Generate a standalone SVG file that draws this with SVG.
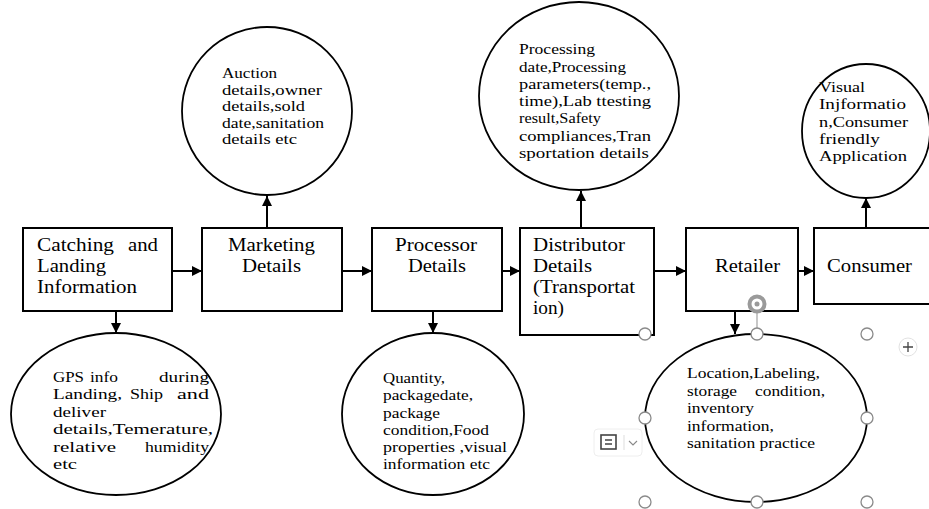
<svg xmlns="http://www.w3.org/2000/svg" width="929" height="509" viewBox="0 0 929 509">
<style>
.box{fill:#fff;stroke:#000;stroke-width:2}
.ell{fill:#fff;stroke:#000;stroke-width:1.8}
text{font-family:'Liberation Serif','Times New Roman','DejaVu Serif',serif;fill:#000}
.bt{font-size:18.5px}
.et{font-size:15px}
.con{stroke:#000;stroke-width:2;fill:none;marker-end:url(#ah)}
.h{fill:#fff;stroke:#8a8a8a;stroke-width:1.3}
</style>
<defs>
<marker id="ah" viewBox="0 0 10 10" refX="10" refY="5" markerWidth="5.5" markerHeight="5" markerUnits="strokeWidth" orient="auto">
<path d="M0,0 L10,5 L0,10 z" fill="#000"/>
</marker>
</defs>
<rect width="929" height="509" fill="#fff"/>

<g id="connectors">
<line class="con" x1="172" y1="271" x2="202" y2="271"/>
<line class="con" x1="342" y1="271" x2="372" y2="271"/>
<line class="con" x1="502" y1="271" x2="520" y2="271"/>
<line class="con" x1="654" y1="271" x2="686" y2="271"/>
<line class="con" x1="798" y1="271" x2="814" y2="271"/>
<line class="con" x1="116" y1="311" x2="116" y2="333"/>
<line class="con" x1="267" y1="228" x2="267" y2="196"/>
<line class="con" x1="433" y1="311" x2="433" y2="333"/>
<line class="con" x1="581" y1="228" x2="581" y2="191"/>
<line class="con" x1="735" y1="311" x2="735" y2="334"/>
<line class="con" x1="866" y1="228" x2="866" y2="198"/>
</g>

<g id="n-catching">
<rect class="box" x="23" y="228" width="149" height="83"/>
<text class="bt" x="37" y="251" textLength="77" lengthAdjust="spacingAndGlyphs">Catching</text>
<text class="bt" x="128" y="251" textLength="30" lengthAdjust="spacingAndGlyphs">and</text>
<text class="bt" x="37" y="272" textLength="69" lengthAdjust="spacingAndGlyphs">Landing</text>
<text class="bt" x="37" y="293" textLength="100" lengthAdjust="spacingAndGlyphs">Information</text>
</g>

<g id="n-marketing">
<rect class="box" x="202" y="228" width="140" height="83"/>
<text class="bt" x="228" y="251" textLength="87" lengthAdjust="spacingAndGlyphs">Marketing</text>
<text class="bt" x="242" y="272" textLength="59" lengthAdjust="spacingAndGlyphs">Details</text>
</g>

<g id="n-processor">
<rect class="box" x="372" y="228" width="130" height="83"/>
<text class="bt" x="395" y="251" textLength="82" lengthAdjust="spacingAndGlyphs">Processor</text>
<text class="bt" x="408" y="272" textLength="58" lengthAdjust="spacingAndGlyphs">Details</text>
</g>

<g id="n-distributor">
<rect class="box" x="520" y="228" width="134" height="107"/>
<text class="bt" x="533" y="251" textLength="92" lengthAdjust="spacingAndGlyphs">Distributor</text>
<text class="bt" x="533" y="272" textLength="59" lengthAdjust="spacingAndGlyphs">Details</text>
<text class="bt" x="533" y="293" textLength="102" lengthAdjust="spacingAndGlyphs">(Transportat</text>
<text class="bt" x="533" y="314" textLength="31" lengthAdjust="spacingAndGlyphs">ion)</text>
</g>

<g id="n-retailer">
<rect class="box" x="686" y="228" width="112" height="83"/>
<text class="bt" x="715" y="272" textLength="65" lengthAdjust="spacingAndGlyphs">Retailer</text>
</g>

<g id="n-consumer">
<rect class="box" x="814" y="228" width="120" height="76"/>
<text class="bt" x="827" y="272" textLength="85" lengthAdjust="spacingAndGlyphs">Consumer</text>
</g>

<g id="n-auction">
<ellipse class="ell" cx="267" cy="111" rx="85" ry="84"/>
<text class="et" x="222" y="78" textLength="55" lengthAdjust="spacingAndGlyphs">Auction</text>
<text class="et" x="222" y="95" textLength="100" lengthAdjust="spacingAndGlyphs">details,owner</text>
<text class="et" x="222" y="111" textLength="83" lengthAdjust="spacingAndGlyphs">details,sold</text>
<text class="et" x="222" y="128" textLength="102" lengthAdjust="spacingAndGlyphs">date,sanitation</text>
<text class="et" x="222" y="144" textLength="75" lengthAdjust="spacingAndGlyphs">details etc</text>
</g>

<g id="n-processing">
<ellipse class="ell" cx="579" cy="96" rx="100" ry="94"/>
<text class="et" x="519" y="54" textLength="76" lengthAdjust="spacingAndGlyphs">Processing</text>
<text class="et" x="519" y="72" textLength="107" lengthAdjust="spacingAndGlyphs">date,Processing</text>
<text class="et" x="519" y="89" textLength="132" lengthAdjust="spacingAndGlyphs">parameters(temp.,</text>
<text class="et" x="519" y="106" textLength="132" lengthAdjust="spacingAndGlyphs">time),Lab ttesting</text>
<text class="et" x="519" y="123" textLength="82" lengthAdjust="spacingAndGlyphs">result,Safety</text>
<text class="et" x="519" y="141" textLength="132" lengthAdjust="spacingAndGlyphs">compliances,Tran</text>
<text class="et" x="519" y="158" textLength="130" lengthAdjust="spacingAndGlyphs">sportation details</text>
</g>

<g id="n-visual">
<ellipse class="ell" cx="866" cy="131" rx="64" ry="67"/>
<text class="et" x="819" y="92" textLength="46" lengthAdjust="spacingAndGlyphs">Visual</text>
<text class="et" x="819" y="109" textLength="87" lengthAdjust="spacingAndGlyphs">Injformatio</text>
<text class="et" x="819" y="127" textLength="89" lengthAdjust="spacingAndGlyphs">n,Consumer</text>
<text class="et" x="819" y="144" textLength="61" lengthAdjust="spacingAndGlyphs">friendly</text>
<text class="et" x="819" y="161" textLength="88" lengthAdjust="spacingAndGlyphs">Application</text>
</g>

<g id="n-gps">
<ellipse class="ell" cx="116" cy="414" rx="105" ry="81"/>
<text class="et" x="53" y="382" textLength="31" lengthAdjust="spacingAndGlyphs">GPS</text>
<text class="et" x="90" y="382" textLength="28" lengthAdjust="spacingAndGlyphs">info</text>
<text class="et" x="159" y="382" textLength="50" lengthAdjust="spacingAndGlyphs">during</text>
<text class="et" x="53" y="399" textLength="69" lengthAdjust="spacingAndGlyphs">Landing,</text>
<text class="et" x="130" y="399" textLength="33" lengthAdjust="spacingAndGlyphs">Ship</text>
<text class="et" x="177" y="399" textLength="32" lengthAdjust="spacingAndGlyphs">and</text>
<text class="et" x="53" y="417" textLength="53" lengthAdjust="spacingAndGlyphs">deliver</text>
<text class="et" x="53" y="434" textLength="160" lengthAdjust="spacingAndGlyphs">details,Temerature,</text>
<text class="et" x="53" y="452" textLength="63" lengthAdjust="spacingAndGlyphs">relative</text>
<text class="et" x="145" y="452" textLength="64" lengthAdjust="spacingAndGlyphs">humidity</text>
<text class="et" x="53" y="469" textLength="24" lengthAdjust="spacingAndGlyphs">etc</text>
</g>

<g id="n-quantity">
<ellipse class="ell" cx="433" cy="414" rx="91" ry="81"/>
<text class="et" x="383" y="383" textLength="62" lengthAdjust="spacingAndGlyphs">Quantity,</text>
<text class="et" x="383" y="400" textLength="90" lengthAdjust="spacingAndGlyphs">packagedate,</text>
<text class="et" x="383" y="418" textLength="57" lengthAdjust="spacingAndGlyphs">package</text>
<text class="et" x="383" y="435" textLength="106" lengthAdjust="spacingAndGlyphs">condition,Food</text>
<text class="et" x="383" y="452" textLength="124" lengthAdjust="spacingAndGlyphs">properties   ,visual</text>
<text class="et" x="383" y="469" textLength="107" lengthAdjust="spacingAndGlyphs">information etc</text>
</g>

<g id="n-location">
<ellipse class="ell" cx="756" cy="418" rx="111" ry="84"/>
<text class="et" x="687" y="378" textLength="133" lengthAdjust="spacingAndGlyphs">Location,Labeling,</text>
<text class="et" x="687" y="396" textLength="50" lengthAdjust="spacingAndGlyphs">storage</text>
<text class="et" x="755" y="396" textLength="70" lengthAdjust="spacingAndGlyphs">condition,</text>
<text class="et" x="687" y="413" textLength="67" lengthAdjust="spacingAndGlyphs">inventory</text>
<text class="et" x="687" y="431" textLength="87" lengthAdjust="spacingAndGlyphs">information,</text>
<text class="et" x="687" y="448" textLength="128" lengthAdjust="spacingAndGlyphs">sanitation practice</text>
</g>

<g id="selection-handles">
<line x1="757" y1="312" x2="757" y2="328" stroke="#aaa" stroke-width="1.3"/>
<circle cx="757" cy="304" r="7.5" fill="none" stroke="#9a9a9a" stroke-width="4"/>
<circle cx="757" cy="304" r="2.5" fill="#9a9a9a"/>
<circle class="h" cx="645" cy="334" r="6"/>
<circle class="h" cx="757" cy="334" r="6"/>
<circle class="h" cx="867" cy="334" r="6"/>
<circle class="h" cx="645" cy="418" r="6"/>
<circle class="h" cx="867" cy="418" r="6"/>
<circle class="h" cx="645" cy="502" r="6"/>
<circle class="h" cx="757" cy="502" r="6"/>
<circle class="h" cx="867" cy="502" r="6"/>
<circle cx="908" cy="347" r="9" fill="#fff" stroke="#e2e2e2" stroke-width="1"/>
<path d="M903,347 H913 M908,342 V352" stroke="#444" stroke-width="1.3"/>
<rect x="594" y="429" width="48" height="27" rx="4" fill="#fff" stroke="#eee" stroke-width="1"/>
<rect x="601" y="435" width="15" height="14" fill="none" stroke="#444" stroke-width="1.6"/>
<path d="M605,440 H612 M605,444 H612" stroke="#444" stroke-width="1.3"/>
<line x1="624" y1="435" x2="624" y2="450" stroke="#ddd" stroke-width="1"/>
<path d="M629,441 L633,445 L637,441" fill="none" stroke="#888" stroke-width="1.1"/>
</g>
</svg>
